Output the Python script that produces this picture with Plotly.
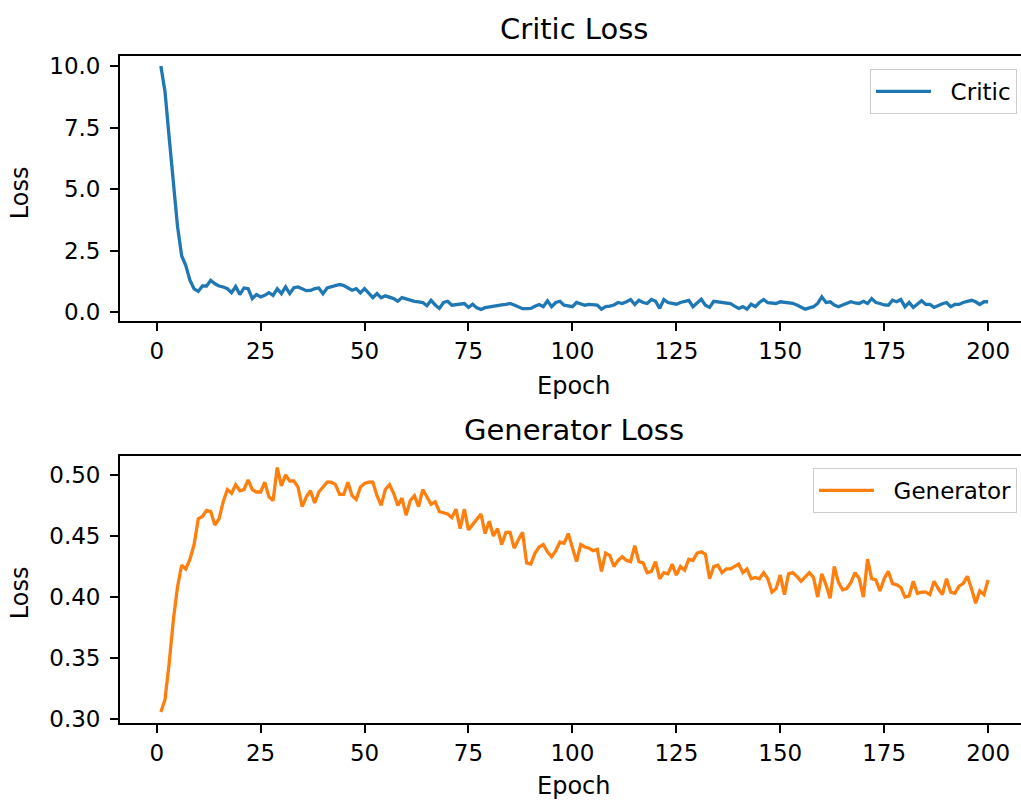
import plotly.graph_objects as go

epochs = list(range(1, 201))

critic_loss = [
    10.0, 8.96, 7.1, 5.1, 3.5, 2.3, 1.9, 1.3, 0.95, 0.85,
    1.07, 1.07, 1.3, 1.16, 1.07, 1.03, 0.96, 0.8, 1.05, 0.72,
    0.99, 0.96, 0.56, 0.72, 0.63, 0.69, 0.8, 0.69, 0.96, 0.76,
    1.03, 0.76, 1.0, 1.03, 0.96, 0.88, 0.89, 0.96, 0.99, 0.76,
    0.99, 1.03, 1.09, 1.13, 1.09, 1.0, 0.9, 0.96, 0.79, 0.96,
    0.8, 0.6, 0.76, 0.59, 0.67, 0.62, 0.56, 0.45, 0.6, 0.55,
    0.49, 0.45, 0.43, 0.4, 0.27, 0.49, 0.3, 0.16, 0.4, 0.45,
    0.29, 0.32, 0.33, 0.36, 0.2, 0.33, 0.18, 0.12, 0.19, 0.22,
    0.27, 0.27, 0.3, 0.32, 0.36, 0.3, 0.23, 0.15, 0.15, 0.16,
    0.25, 0.32, 0.23, 0.47, 0.23, 0.4, 0.45, 0.29, 0.26, 0.23,
    0.4, 0.33, 0.29, 0.32, 0.3, 0.29, 0.13, 0.23, 0.25, 0.3,
    0.4, 0.36, 0.43, 0.52, 0.32, 0.49, 0.4, 0.36, 0.52, 0.45,
    0.16, 0.52, 0.4, 0.36, 0.33, 0.4, 0.45, 0.49, 0.23, 0.4,
    0.53, 0.29, 0.2, 0.45, 0.42, 0.4, 0.38, 0.36, 0.25, 0.16,
    0.23, 0.13, 0.33, 0.23, 0.4, 0.52, 0.39, 0.37, 0.36, 0.43,
    0.41, 0.39, 0.37, 0.3, 0.23, 0.13, 0.18, 0.23, 0.36, 0.63,
    0.4, 0.43, 0.3, 0.23, 0.3, 0.36, 0.43, 0.38, 0.36, 0.45,
    0.36, 0.56, 0.4, 0.36, 0.3, 0.29, 0.49, 0.43, 0.52, 0.23,
    0.4, 0.2, 0.32, 0.47, 0.32, 0.32, 0.2, 0.29, 0.35, 0.4,
    0.23, 0.32, 0.32, 0.4, 0.45, 0.49, 0.43, 0.32, 0.43, 0.43,
]

generator_loss = [
    0.306, 0.316, 0.346, 0.381, 0.408, 0.426, 0.423, 0.431, 0.443, 0.464,
    0.466, 0.471, 0.470, 0.459, 0.464, 0.478, 0.488, 0.485, 0.492, 0.487,
    0.488, 0.496, 0.488, 0.486, 0.486, 0.494, 0.482, 0.479, 0.506, 0.491,
    0.500, 0.495, 0.495, 0.490, 0.474, 0.482, 0.487, 0.477, 0.486, 0.490,
    0.494, 0.494, 0.492, 0.484, 0.484, 0.494, 0.483, 0.480, 0.490, 0.493,
    0.494, 0.494, 0.483, 0.475, 0.488, 0.492, 0.485, 0.475, 0.481, 0.467,
    0.479, 0.483, 0.474, 0.488, 0.482, 0.476, 0.478, 0.470, 0.469, 0.468,
    0.465, 0.472, 0.456, 0.472, 0.455, 0.459, 0.464, 0.468, 0.452, 0.462,
    0.450, 0.456, 0.443, 0.453, 0.453, 0.440, 0.447, 0.453, 0.428, 0.427,
    0.436, 0.441, 0.443, 0.437, 0.433, 0.438, 0.445, 0.444, 0.452, 0.440,
    0.429, 0.443, 0.441, 0.440, 0.438, 0.439, 0.421, 0.436, 0.434, 0.425,
    0.430, 0.433, 0.430, 0.429, 0.442, 0.429, 0.428, 0.420, 0.421, 0.429,
    0.415, 0.420, 0.419, 0.427, 0.418, 0.425, 0.422, 0.431, 0.430, 0.436,
    0.437, 0.435, 0.415, 0.425, 0.426, 0.420, 0.423, 0.423, 0.425, 0.427,
    0.420, 0.423, 0.415, 0.416, 0.415, 0.420, 0.415, 0.404, 0.407, 0.418,
    0.402, 0.419, 0.420, 0.417, 0.413, 0.417, 0.420, 0.416, 0.400, 0.419,
    0.410, 0.399, 0.425, 0.412, 0.406, 0.407, 0.412, 0.420, 0.415, 0.400,
    0.431, 0.415, 0.414, 0.405, 0.415, 0.421, 0.411, 0.410, 0.408, 0.400,
    0.401, 0.413, 0.403, 0.404, 0.404, 0.402, 0.413, 0.407, 0.402, 0.415,
    0.404, 0.403, 0.409, 0.411, 0.417, 0.407, 0.395, 0.405, 0.402, 0.414,
]

x_ticks = [0, 25, 50, 75, 100, 125, 150, 175, 200]
critic_ticks = [0.0, 2.5, 5.0, 7.5, 10.0]
gen_ticks = [0.30, 0.35, 0.40, 0.45, 0.50]

W, H = 1021, 811
L = 120
FONT = "DejaVu Sans"
TICK_FS = 23
LABEL_FS = 24
TITLE_FS = 29
GAP = "\u00a0\u00a0"


def fy(px):
    return 1 - px / H


def fx(px):
    return (px - L) / (W - L)


fig = go.Figure()
fig.add_trace(go.Scatter(x=epochs, y=critic_loss, mode="lines", name=GAP + "Critic",
                         line=dict(color="#1f77b4", width=3.3),
                         xaxis="x", yaxis="y", legend="legend"))
fig.add_trace(go.Scatter(x=epochs, y=generator_loss, mode="lines", name=GAP + "Generator",
                         line=dict(color="#ff7f0e", width=3.3),
                         xaxis="x2", yaxis="y2", legend="legend2"))

axis_common = dict(showgrid=False, zeroline=False, showline=True, linecolor="black",
                   linewidth=1.8, ticks="outside", ticklen=8, tickwidth=1.8,
                   tickcolor="black",
                   tickfont=dict(family=FONT, size=TICK_FS, color="black"))

xr = [(L - 156.7) / 4.157, (W - 156.7) / 4.157]

legend_common = dict(xanchor="right", yanchor="top",
                     bgcolor="rgba(255,255,255,0.8)", bordercolor="#cccccc", borderwidth=1,
                     font=dict(family=FONT, size=TICK_FS, color="black"), itemwidth=55)

fig.update_layout(
    width=W, height=H, autosize=False,
    margin=dict(l=L, r=0, t=0, b=0),
    paper_bgcolor="white", plot_bgcolor="white",
    font=dict(family=FONT, color="black"),
    xaxis=dict(domain=[0, 1], anchor="y", range=xr, tickvals=x_ticks, mirror=True,
               **axis_common),
    yaxis=dict(domain=[fy(323), fy(54)], anchor="x", range=[-0.36, 10.4],
               tickvals=critic_ticks, tickformat=".1f", mirror=False,
               ticklabelstandoff=5, **axis_common),
    xaxis2=dict(domain=[0, 1], anchor="y2", range=xr, tickvals=x_ticks, mirror=True,
                **axis_common),
    yaxis2=dict(domain=[fy(731), fy(460)], anchor="x2", range=[0.2968, 0.5153],
                tickvals=gen_ticks, tickformat=".2f", mirror=False,
                ticklabelstandoff=5, **axis_common),
    legend=dict(x=fx(1017), y=fy(67), **legend_common),
    legend2=dict(x=fx(1017), y=fy(472), **legend_common),
    showlegend=True,
)

annos = [
    ("Critic Loss", fx(574), fy(26), TITLE_FS),
    ("Generator Loss", fx(574), fy(433), TITLE_FS),
    ("Epoch", fx(574), fy(389), LABEL_FS),
    ("Epoch", fx(574), fy(795), LABEL_FS),
]
for text, x, y, size in annos:
    fig.add_annotation(text=text, x=x, y=y, xref="paper", yref="paper",
                       xanchor="center", yanchor="middle", showarrow=False,
                       font=dict(family=FONT, size=size, color="black"))
for yc in (193, 599):
    fig.add_annotation(text="Loss", x=fx(20), y=fy(yc), xref="paper", yref="paper",
                       xanchor="center", yanchor="middle", showarrow=False, textangle=-90,
                       font=dict(family=FONT, size=LABEL_FS, color="black"))

fig.write_html("out.html")
